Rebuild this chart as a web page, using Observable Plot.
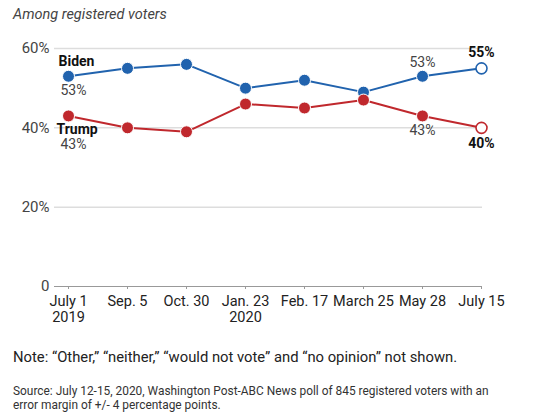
<!DOCTYPE html>
<html>
<head>
<meta charset="utf-8">
<script src="https://cdn.jsdelivr.net/npm/d3@7"></script>
<script src="https://cdn.jsdelivr.net/npm/@observablehq/plot@0.6"></script>
<style>
  body { margin: 0; background: #fff; font-family: Roboto, sans-serif; width: 550px; }
  #sub { font-style: italic; font-size: 14.5px; color: #444; padding: 6px 0 0 13px; height: 22px; }
  #note { font-size: 14.8px; color: #222; padding: 22px 0 0 13px; }
  #source { font-size: 11.9px; color: #333; padding: 18px 0 0 13px; line-height: 14px; white-space: nowrap; }
</style>
</head>
<body>
<div id="sub">Among registered voters</div>
<div id="chart"></div>
<div id="note">Note: “Other,” “neither,” “would not vote” and “no opinion” not shown.</div>
<div id="source">Source: July 12-15, 2020, Washington Post-ABC News poll of 845 registered voters with an<br>error margin of +/- 4 percentage points.</div>
<script>
const dates = ["July 1\n2019", "Sep. 5", "Oct. 30", "Jan. 23\n2020", "Feb. 17", "March 25", "May 28", "July 15"]
const biden = [53, 55, 56, 50, 52, 49, 53, 55]
const trump = [43, 40, 39, 46, 45, 47, 43, 40]
const yTicks = [0, 20, 40, 60]

const blue = '#2163ae'
const red = '#c0282d'

let rows = []
dates.forEach((d, i) => {
  rows.push({date: d, who: 'Biden', v: biden[i], last: i == dates.length - 1})
  rows.push({date: d, who: 'Trump', v: trump[i], last: i == dates.length - 1})
})
const B = rows.filter(d => d.who == 'Biden')
const T = rows.filter(d => d.who == 'Trump')
const col = d => (d.who == 'Biden' ? blue : red)

let chart = Plot.plot({
  width: 550,
  height: 298,
  marginLeft: 54,
  marginRight: 68,
  marginTop: 20,
  marginBottom: 40,
  x: {type: 'point', domain: dates, range: [65, 483], padding: 0, label: null},
  y: {domain: [0, 60], label: null},
  style: {fontFamily: 'Roboto, sans-serif', fontSize: 13, color: '#222', background: 'transparent'},
  marks: [
    Plot.ruleY(yTicks.slice(1), {stroke: '#ddd', strokeWidth: 1.5}),
    Plot.ruleY([0], {stroke: '#999'}),
    Plot.axisY({ticks: yTicks, tickSize: 0, tickPadding: 5, fontSize: 15, fill: '#444',
      tickFormat: d => (d == 0 ? '0' : d + '%')}),
    Plot.axisX({tickSize: 3, tickPadding: 5, stroke: '#999', fontSize: 14.5, lineHeight: 1.12, fill: '#222'}),
    Plot.line(B, {x: 'date', y: 'v', stroke: blue, strokeWidth: 2}),
    Plot.line(T, {x: 'date', y: 'v', stroke: red, strokeWidth: 2}),
    Plot.dot(rows.filter(d => !d.last), {x: 'date', y: 'v', r: 6, fill: col, stroke: 'white', strokeWidth: 1}),
    Plot.dot(rows.filter(d => d.last), {x: 'date', y: 'v', r: 5.5, fill: 'white', stroke: col, strokeWidth: 1.6}),
    // name labels
    Plot.text([B[0]], {x: 'date', y: 'v', text: d => d.who, dx: -10, dy: -15, textAnchor: 'start', fontWeight: 'bold', fontSize: 14, fill: '#111'}),
    Plot.text([T[0]], {x: 'date', y: 'v', text: d => d.who, dx: -12, dy: 14, textAnchor: 'start', fontWeight: 'bold', fontSize: 14, fill: '#111'}),
    // value labels
    Plot.text([B[0]], {x: 'date', y: 'v', text: d => d.v + '%', dx: -8, dy: 14, textAnchor: 'start', fontSize: 14, fill: '#444'}),
    Plot.text([T[0]], {x: 'date', y: 'v', text: d => d.v + '%', dx: -8, dy: 29, textAnchor: 'start', fontSize: 14, fill: '#444'}),
    Plot.text([B[6]], {x: 'date', y: 'v', text: d => d.v + '%', dy: -14, fontSize: 14, fill: '#444'}),
    Plot.text([T[6]], {x: 'date', y: 'v', text: d => d.v + '%', dy: 15, fontSize: 14, fill: '#444'}),
    Plot.text([B[7]], {x: 'date', y: 'v', text: d => d.v + '%', dy: -16, fontSize: 14, fontWeight: 'bold', fill: '#111'}),
    Plot.text([T[7]], {x: 'date', y: 'v', text: d => d.v + '%', dy: 16, fontSize: 14, fontWeight: 'bold', fill: '#111'})
  ]
})
d3.select('#chart').append(() => chart)
</script>
</body>
</html>
